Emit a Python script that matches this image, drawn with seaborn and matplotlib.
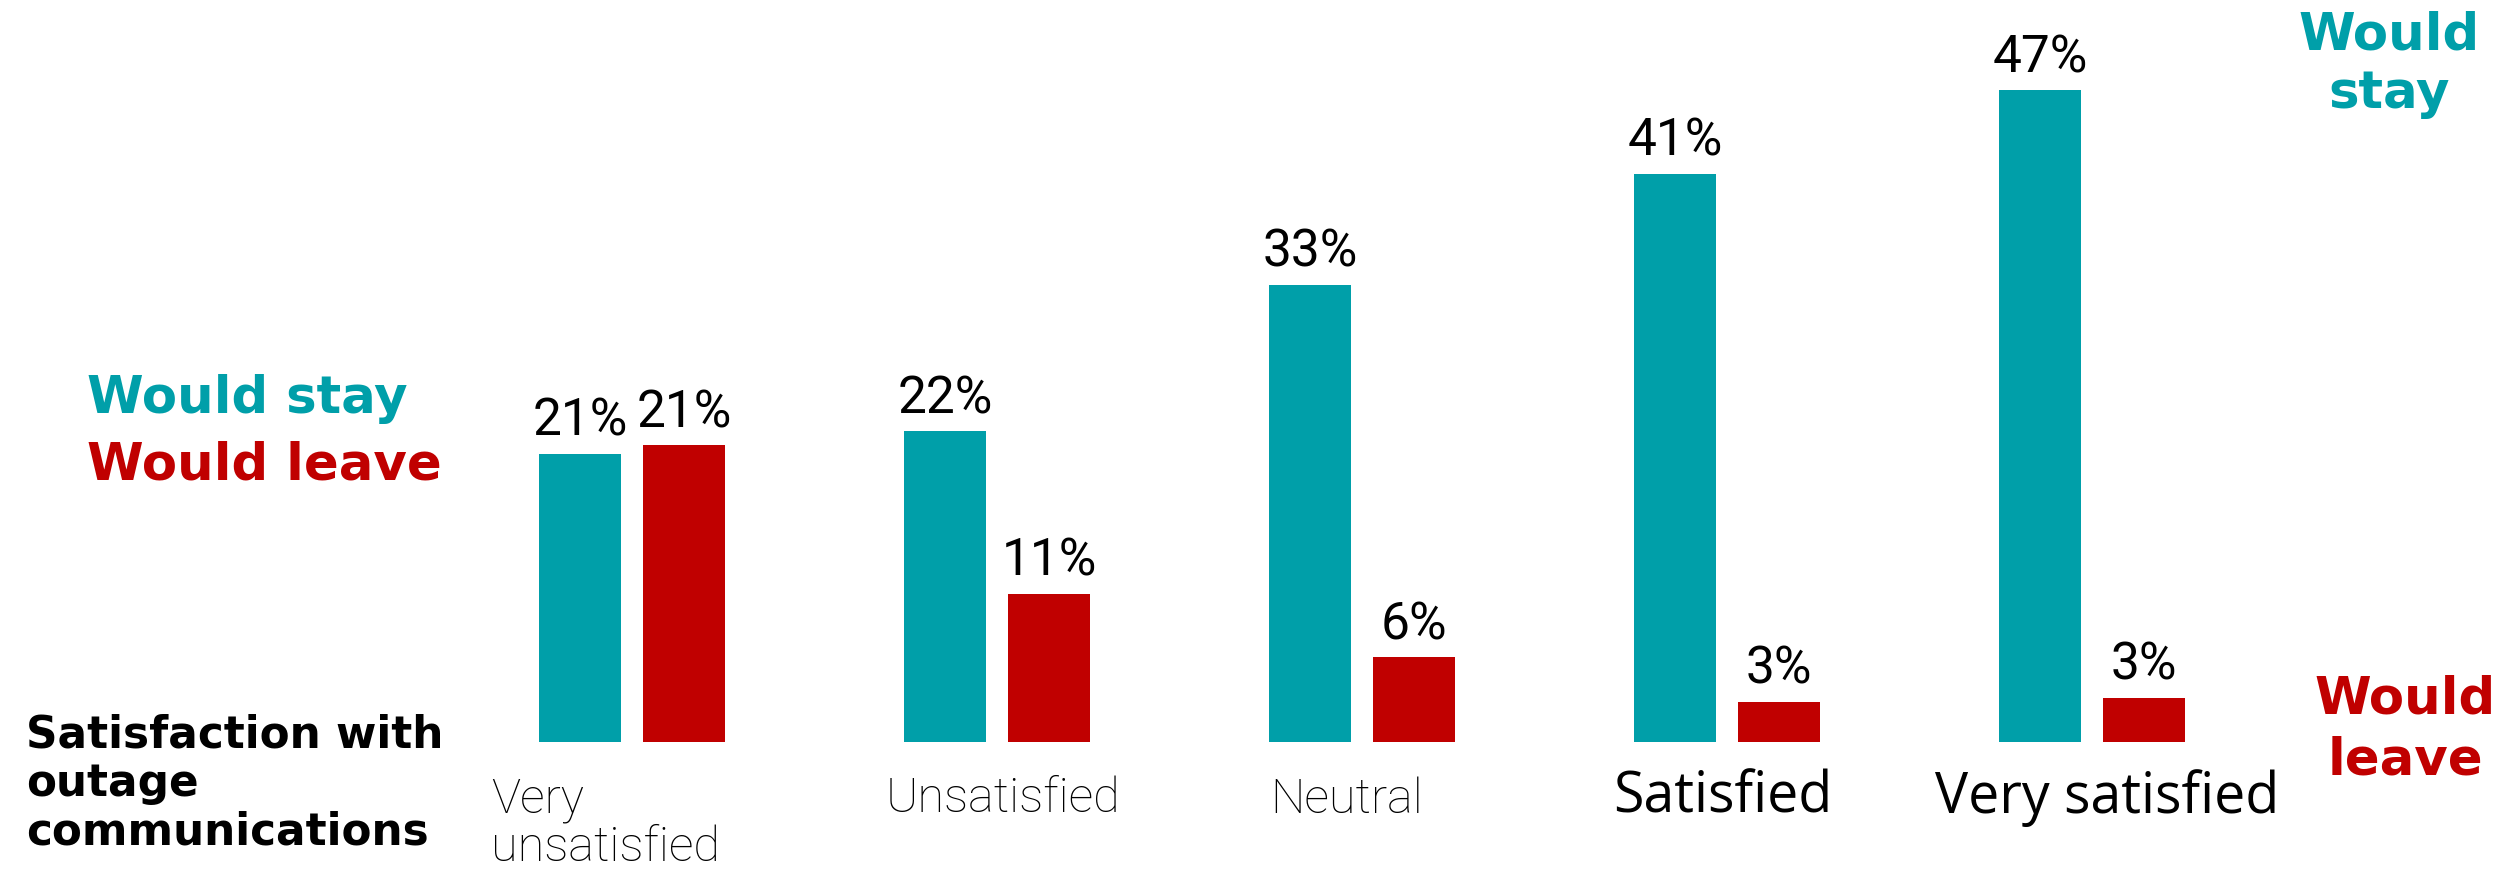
import matplotlib
matplotlib.use("Agg")
import matplotlib.pyplot as plt
import seaborn as sns
import pandas as pd

# Survey data: share of customers who would stay / leave by satisfaction level
categories = ["Very\nunsatisfied", "Unsatisfied", "Neutral", "Satisfied", "Very satisfied"]
series = ["Would stay", "Would leave"]
would_stay = [20.8, 22.4, 33.0, 41.0, 47.0]
would_leave = [21.4, 10.7, 6.1, 2.9, 3.2]

TEAL = "#009FA9"
RED = "#C00000"
palette = [TEAL, RED]

df = pd.DataFrame({
    "category": categories * 2,
    "response": [series[0]] * len(categories) + [series[1]] * len(categories),
    "pct": would_stay + would_leave,
})

sns.set_theme(style="white")
plt.rcParams["font.family"] = ["DejaVu Sans"]
plt.rcParams["text.color"] = "black"

W, H = 2516, 870
fig = plt.figure(figsize=(W / 100, H / 100), dpi=100)
fig.patch.set_facecolor("white")


def fx(x):
    return x / W


def fy(y):
    return 1 - y / H


baseline_px = 743
ax = fig.add_axes([0, 1 - baseline_px / H, 1, baseline_px / H])
ax.set_facecolor("none")

sns.barplot(data=df, x="category", y="pct", hue="response", order=categories,
            hue_order=series, palette=palette, saturation=1, width=0.57, gap=0.21,
            linewidth=0, legend=False, ax=ax)

ax.set_xlim(-1.732, 5.162)
ax.set_ylim(0, 53.6)
ax.set_xticks([])
ax.set_yticks([])
ax.set_xlabel("")
ax.set_ylabel("")
for s in ax.spines.values():
    s.set_visible(False)

label_font = ["Roboto", "DejaVu Sans"]
for cont, vals in zip(ax.containers, [would_stay, would_leave]):
    ax.bar_label(cont, labels=[f"{v:.0f}%" for v in vals], padding=6,
                 fontsize=37, family=label_font, color="black")

# Category labels beneath each group
cat_font = ["Roboto", "DejaVu Sans"]
fig.text(fx(491), fy(861), categories[0], ha="left", va="baseline", fontsize=35,
         family=cat_font, fontweight="light", color="black", linespacing=1.05)
fig.text(fx(1003), fy(812), categories[1], ha="center", va="baseline", fontsize=35,
         family=cat_font, fontweight="light", color="black")
fig.text(fx(1347), fy(813), categories[2], ha="center", va="baseline", fontsize=35,
         family=cat_font, fontweight="light", color="black")
fig.text(fx(1723), fy(813), categories[3], ha="center", va="baseline", fontsize=40,
         family=["Open Sans", "DejaVu Sans"], color="black")
fig.text(fx(2107), fy(813), categories[4], ha="center", va="baseline", fontsize=40,
         family=["Open Sans", "DejaVu Sans"], color="black")

# Series key on the left
fig.text(fx(87), fy(413), series[0], ha="left", va="baseline", fontsize=37,
         fontweight="bold", color=TEAL)
fig.text(fx(87), fy(480), series[1], ha="left", va="baseline", fontsize=37,
         fontweight="bold", color=RED)

# Axis title
fig.text(fx(26), fy(845), "Satisfaction with\noutage\ncommunications", ha="left",
         va="baseline", fontsize=31.5, fontweight="bold", color="black", linespacing=1.17)

# Axis end markers on the right
fig.text(fx(2389), fy(108), "Would\nstay", ha="center", va="baseline", fontsize=37,
         fontweight="bold", color=TEAL, linespacing=1.22)
fig.text(fx(2405), fy(775), "Would\nleave", ha="center", va="baseline", fontsize=37,
         fontweight="bold", color=RED, linespacing=1.3)

fig.savefig("out.png", dpi=100, facecolor="white")
